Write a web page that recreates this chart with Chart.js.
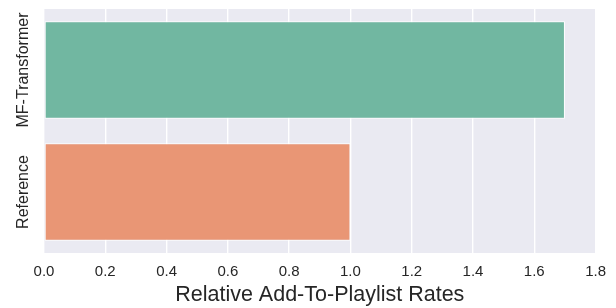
<!DOCTYPE html>
<html><head><meta charset="utf-8">
<script src="https://cdn.jsdelivr.net/npm/chart.js@4/dist/chart.umd.min.js"></script>
<style>html,body{margin:0;padding:0;background:#fff}#wrap{width:616px;height:308px}</style>
</head><body><div id="wrap"><canvas id="c" width="616" height="308"></canvas></div>
<script>
const categories = ["MF-Transformer", "Reference"];
const rates = [1.7, 1.0];
const barColors = ["#71b7a1", "#e99675"];
const xTitle = "Relative Add-To-Playlist Rates";
const xMin = 0, xMax = 1.8, xStep = 0.2;

const FONT = "'Liberation Sans', Arial, sans-serif";
const TEXT = "#262626";

const bgPlugin = {
  id: 'bg',
  beforeDraw(chart) {
    const {ctx, chartArea: a} = chart;
    ctx.save();
    ctx.fillStyle = '#eaeaf2';
    ctx.fillRect(a.left, a.top, a.right - a.left, a.bottom - a.top);
    ctx.restore();
  }
};
const yLabelPlugin = {
  id: 'ylabels',
  afterDraw(chart) {
    const {ctx} = chart;
    const ys = chart.scales.y;
    ctx.save();
    ctx.fillStyle = TEXT;
    ctx.font = "16px " + FONT;
    ctx.textAlign = 'center';
    ctx.textBaseline = 'middle';
    categories.forEach((c, i) => {
      const y = ys.getPixelForValue(i);
      ctx.save();
      ctx.translate(24, y);
      ctx.rotate(-Math.PI / 2);
      ctx.fillText(c, 0, 0);
      ctx.restore();
    });
    ctx.restore();
  }
};

new Chart(document.getElementById('c'), {
  type: 'bar',
  data: {
    labels: categories,
    datasets: [{
      data: rates,
      backgroundColor: barColors,
      borderColor: '#ffffff',
      borderWidth: 1,
      borderSkipped: false,
      categoryPercentage: 1,
      barPercentage: 0.8
    }]
  },
  options: {
    indexAxis: 'y',
    responsive: false,
    animation: false,
    devicePixelRatio: 1,
    layout: {padding: {top: 9, right: 20, left: 0, bottom: 0}},
    plugins: {legend: {display: false}, tooltip: {enabled: false}},
    scales: {
      x: {
        type: 'linear',
        min: xMin, max: xMax,
        grid: {color: '#ffffff', lineWidth: 1.4, drawTicks: false},
        border: {display: false},
        ticks: {
          stepSize: xStep,
          padding: 10,
          color: TEXT,
          font: {family: FONT, size: 15},
          maxRotation: 0,
          callback: v => Number(v).toFixed(1)
        },
        title: {display: true, text: xTitle, color: TEXT, font: {family: FONT, size: 21.5}, padding: {top: 0, bottom: 0}},
        afterFit(s) { s.height = 55; }
      },
      y: {
        type: 'category',
        grid: {display: false},
        border: {display: false},
        ticks: {display: false},
        afterFit(s) { s.width = 44; }
      }
    }
  },
  plugins: [bgPlugin, yLabelPlugin]
});
</script></body></html>
